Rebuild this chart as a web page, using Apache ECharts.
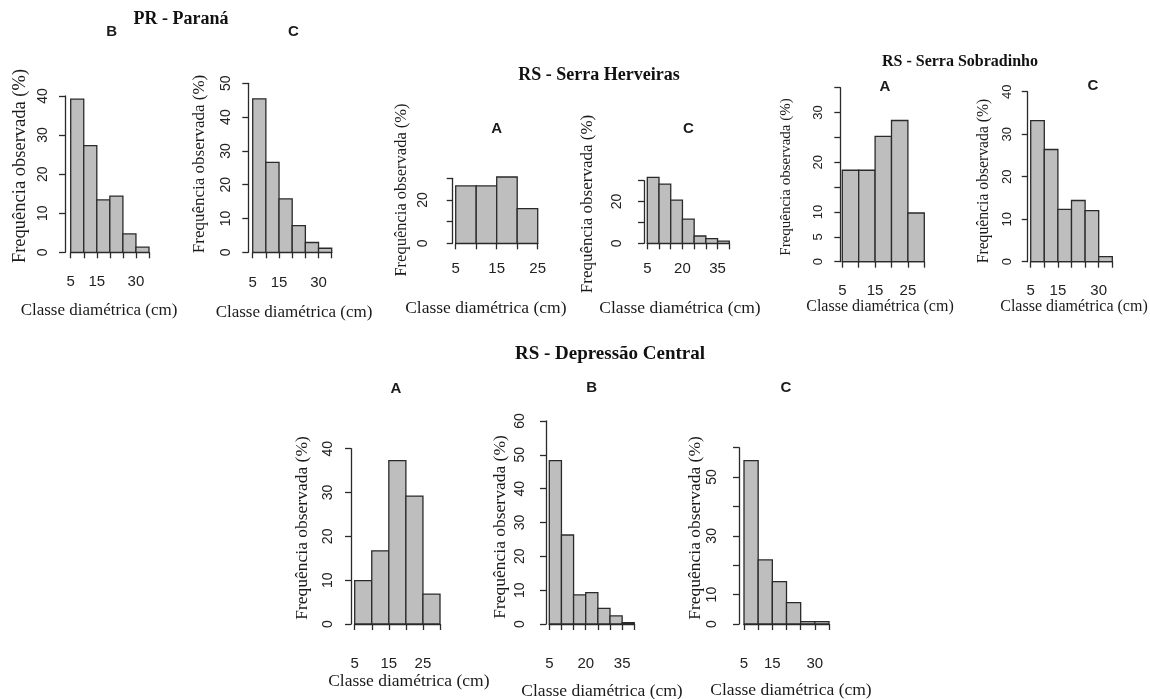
<!DOCTYPE html>
<html><head><meta charset="utf-8">
<script src="https://cdn.jsdelivr.net/npm/echarts@6/dist/echarts.min.js"></script>
<style>html,body{margin:0;padding:0;background:#fff}#c{width:1150px;height:699px}</style>
</head><body><div id="c"></div>
<script>
// ---- data ----
const classStarts = [5, 10, 15, 20, 25, 30, 35];
const binWidth = 5;

const prB = [39.2, 27.3, 13.4, 14.4, 4.7, 1.3];
const prC = [45.4, 26.6, 15.8, 7.9, 2.9, 1.2];
const shA = [26.5, 26.5, 30.6, 16.0];
const shC = [31.6, 28.4, 20.7, 11.6, 3.5, 2.2, 1.0];
const ssA = [18.4, 18.4, 25.2, 28.4, 9.8];
const ssC = [33.2, 26.4, 12.3, 14.4, 12.0, 1.2];
const dcA = [9.9, 16.7, 37.3, 29.2, 6.8];
const dcB = [48.3, 26.3, 8.6, 9.3, 4.6, 2.4, 0.4];
const dcC = [55.6, 21.8, 14.4, 7.3, 0.8, 0.8];

// tick positions and the labels that are printed
const xTicks35 = [5, 10, 15, 20, 25, 30, 35];
const xTicks25 = [5, 10, 15, 20, 25];
const xTicks30 = [5, 10, 15, 20, 25, 30];
const xTicks40 = [5, 10, 15, 20, 25, 30, 35, 40];
const xLab_5_15_30 = [5, 15, 30];
const xLab_5_15_25 = [5, 15, 25];
const xLab_5_20_35 = [5, 20, 35];

const yTicks40 = [0, 10, 20, 30, 40];
const yTicks50 = [0, 10, 20, 30, 40, 50];
const yTicks30 = [0, 10, 20, 30];
const yTicks35 = [0, 5, 10, 15, 20, 25, 30, 35];
const yTicks60 = [0, 10, 20, 30, 40, 50, 60];
const yLab_sh = [0, 20];
const yLab_ssA = [0, 5, 10, 20, 30];
const yLab_dcC = [0, 10, 30, 50];

const panelTitles = ['B', 'C', 'A', 'C', 'A', 'C', 'A', 'B', 'C'];
const groupTitles = ['PR - Paraná', 'RS - Serra Herveiras', 'RS - Serra Sobradinho', 'RS - Depressão Central'];
const xName = 'Classe diamétrica (cm)';
const yName = 'Frequência observada (%)';

const panels = [
  { v: prB, xt: xTicks35, xl: xLab_5_15_30, yt: yTicks40, yl: yTicks40 },
  { v: prC, xt: xTicks35, xl: xLab_5_15_30, yt: yTicks50, yl: yTicks50 },
  { v: shA, xt: xTicks25, xl: xLab_5_15_25, yt: yTicks30, yl: yLab_sh },
  { v: shC, xt: xTicks40, xl: xLab_5_20_35, yt: yTicks30, yl: yLab_sh },
  { v: ssA, xt: xTicks30, xl: xLab_5_15_25, yt: yTicks35, yl: yLab_ssA },
  { v: ssC, xt: xTicks35, xl: xLab_5_15_30, yt: yTicks40, yl: yTicks40 },
  { v: dcA, xt: xTicks30, xl: xLab_5_15_25, yt: yTicks40, yl: yTicks40 },
  { v: dcB, xt: xTicks40, xl: xLab_5_20_35, yt: yTicks60, yl: yTicks60 },
  { v: dcC, xt: xTicks35, xl: xLab_5_15_30, yt: yTicks60, yl: yLab_dcC }
];

// ---- layout (pixels) ----
const layout = [
  { g: [70.7, 96, 78.3, 156.3], xo: 7.5, yo: 5.7, xm: 15, ym: 15, t: [111.7, 31.7], yn: [20, 166, 18.5], xn: [99, 311, 17], fs: 14 },
  { g: [252.7, 83.3, 79, 169], xo: 7.5, yo: 4.4, xm: 15.5, ym: 15, t: [293.3, 31.7], yn: [199.3, 164, 17], xn: [294, 313, 17], fs: 14 },
  { g: [455.7, 178.3, 82, 65], xo: 6.5, yo: 3, xm: 11.5, ym: 22.5, t: [496.7, 129.3], yn: [401.7, 190, 16.5], xn: [485.8, 308.3, 17.5], fs: 14 },
  { g: [647.3, 180.7, 82, 62.6], xo: 6.5, yo: 3.3, xm: 11.5, ym: 20, t: [688.3, 129], yn: [588, 204, 17], xn: [680, 308, 17.5], fs: 14 },
  { g: [842.3, 87.7, 82, 174], xo: 9.5, yo: 2, xm: 12, ym: 15, t: [885, 87], yn: [786, 177, 15], xn: [880, 307, 16], fs: 13 },
  { g: [1030.7, 91.7, 81.6, 170], xo: 9.5, yo: 3, xm: 12, ym: 14, t: [1093, 86], yn: [984, 181, 15.7], xn: [1074, 307, 16], fs: 13 },
  { g: [354.7, 448.7, 85.3, 175.3], xo: 8.5, yo: 3.7, xm: 23.5, ym: 16, t: [396, 389.3], yn: [302.7, 528, 17.5], xn: [408.8, 681.7, 17.5], fs: 14 },
  { g: [549.3, 421, 85, 203], xo: 8.5, yo: 3.3, xm: 23.5, ym: 19, t: [591.7, 387.7], yn: [500, 527, 17.5], xn: [602, 691, 17.5], fs: 14 },
  { g: [744, 447.7, 85, 176.3], xo: 8.5, yo: 5, xm: 23.5, ym: 20, t: [786, 388.3], yn: [695, 528, 17.5], xn: [791, 690, 17.5], fs: 14 }
];
const groupPos = [[181, 19, 18], [599, 75, 18], [960, 62, 16], [610, 354, 19]];

const ink = '#2a2a2a';
const barFill = '#bebebe';
const sansFont = '"Liberation Sans", Arial, sans-serif';
const serifFont = '"Liberation Serif", "Times New Roman", serif';

const grids = [], xAxes = [], yAxes = [], series = [], graphics = [];

panels.forEach((p, i) => {
  const L = layout[i];
  grids.push({ left: L.g[0], top: L.g[1], width: L.g[2], height: L.g[3], containLabel: false, outerBoundsMode: 'none' });
  const xs = p.xt, ys = p.yt;
  xAxes.push({
    gridIndex: i, type: 'value', min: xs[0], max: xs[xs.length - 1], interval: xs[1] - xs[0],
    offset: L.xo, splitLine: { show: false },
    axisLine: { show: true, lineStyle: { color: ink, width: 1.3 } },
    axisTick: { show: true, length: 6, lineStyle: { color: ink, width: 1.3 } },
    axisLabel: {
      margin: L.xm, fontSize: 15, fontFamily: sansFont, color: '#222',
      formatter: v => (p.xl.indexOf(v) >= 0 ? String(v) : '')
    }
  });
  yAxes.push({
    gridIndex: i, type: 'value', min: ys[0], max: ys[ys.length - 1], interval: ys[1] - ys[0],
    offset: L.yo, splitLine: { show: false },
    axisLine: { show: true, lineStyle: { color: ink, width: 1.3 } },
    axisTick: { show: true, length: 6, lineStyle: { color: ink, width: 1.3 } },
    axisLabel: {
      rotate: 90, margin: L.ym, fontSize: L.fs, fontFamily: sansFont, color: '#222',
      formatter: v => (p.yl.indexOf(v) >= 0 ? String(v) : '')
    }
  });
  series.push({
    type: 'custom', xAxisIndex: i, yAxisIndex: i, clip: false,
    data: p.v.map((val, k) => [classStarts[k], classStarts[k] + binWidth, val]),
    renderItem: (params, api) => {
      const a = api.coord([api.value(0), api.value(2)]);
      const b = api.coord([api.value(1), 0]);
      return {
        type: 'rect',
        shape: { x: a[0], y: a[1], width: b[0] - a[0], height: b[1] - a[1] },
        style: { fill: barFill, stroke: ink, lineWidth: 1.3 }
      };
    }
  });
  graphics.push({
    type: 'text', x: L.t[0], y: L.t[1],
    style: { text: panelTitles[i], font: 'bold 15px ' + sansFont, fill: '#1a1a1a', align: 'center', verticalAlign: 'middle' }
  });
  graphics.push({
    type: 'text', x: L.yn[0], y: L.yn[1], rotation: Math.PI / 2,
    style: { text: yName, font: L.yn[2] + 'px ' + serifFont, fill: '#1a1a1a', align: 'center', verticalAlign: 'middle' }
  });
  graphics.push({
    type: 'text', x: L.xn[0], y: L.xn[1],
    style: { text: xName, font: L.xn[2] + 'px ' + serifFont, fill: '#1a1a1a', align: 'center', verticalAlign: 'middle' }
  });
});

groupTitles.forEach((t, i) => {
  const g = groupPos[i];
  graphics.push({
    type: 'text', x: g[0], y: g[1],
    style: { text: t, font: 'bold ' + g[2] + 'px ' + serifFont, fill: '#111', align: 'center', verticalAlign: 'middle' }
  });
});

const chart = echarts.init(document.getElementById('c'), null, { renderer: 'canvas' });
chart.setOption({
  backgroundColor: '#ffffff',
  animation: false,
  grid: grids, xAxis: xAxes, yAxis: yAxes, series: series,
  graphic: graphics
});
</script></body></html>
